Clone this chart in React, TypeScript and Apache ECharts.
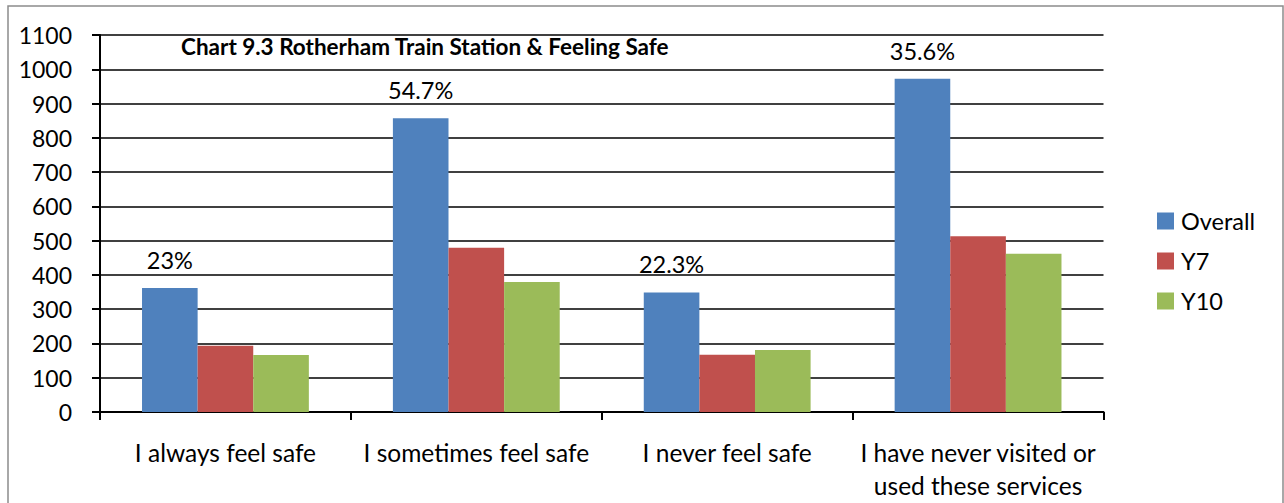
import React, { useEffect, useRef } from "react";
import * as echarts from "echarts";

const categories = [
  "I always feel safe",
  "I sometimes feel safe",
  "I never feel safe",
  "I have never visited or\nused these services",
];
const overall = [362, 857, 349, 972];
const y7 = [193, 479, 167, 513];
const y10 = [166, 379, 181, 462];
const overallLabels = ["23%", "54.7%", "22.3%", "35.6%"];
const yTicks = { min: 0, max: 1100, interval: 100 };
const titleText = "Chart 9.3 Rotherham Train Station & Feeling Safe";

const FONT = "Lato, 'Open Sans', sans-serif";

export default function App() {
  const ref = useRef<HTMLDivElement>(null);
  useEffect(() => {
    if (!ref.current) return;
    const chart = echarts.init(ref.current, undefined, { renderer: "svg" });
    chart.setOption({
      animation: false,
      backgroundColor: "#ffffff",
      textStyle: { fontFamily: FONT },
      title: {
        text: titleText,
        left: 181,
        top: 33,
        padding: 0,
        textStyle: { fontFamily: FONT, fontWeight: "bold", fontSize: 22.5, color: "#000", lineHeight: 26 },
      },
      graphic: [
        {
          type: "rect",
          shape: { x: 8, y: 6, width: 1275, height: 520 },
          style: { fill: "none", stroke: "#8c8c8c", lineWidth: 1.5 },
          silent: true,
        },
      ],
      legend: {
        orient: "vertical",
        left: 1152,
        top: 204,
        itemWidth: 17,
        itemHeight: 17,
        itemGap: 16,
        icon: "rect",
        textStyle: { fontFamily: FONT, fontSize: 23.5, color: "#000", lineHeight: 24, padding: [0, 0, 0, 2] },
        data: ["Overall", "Y7", "Y10"],
      },
      grid: { left: 100, right: 180.5, top: 35, bottom: 91, containLabel: false },
      xAxis: {
        type: "category",
        data: categories,
        axisLine: { lineStyle: { color: "#000", width: 2 } },
        axisTick: { show: true, length: 8, lineStyle: { color: "#000", width: 2 } },
        axisLabel: { interval: 0, margin: 24, fontSize: 24.5, lineHeight: 33, color: "#000", fontFamily: FONT },
      },
      yAxis: {
        type: "value",
        min: yTicks.min,
        max: yTicks.max,
        interval: yTicks.interval,
        axisLine: { show: true, lineStyle: { color: "#000", width: 2 } },
        axisTick: { show: true, length: 8, lineStyle: { color: "#000", width: 2 } },
        splitLine: { show: true, lineStyle: { color: "#000", width: 1.6 } },
        axisLabel: {
          margin: 28,
          fontSize: 23,
          color: "#000",
          fontFamily: FONT,
          padding: [8, 0, 0, 0],
          formatter: (v: number) => String(v),
        },
      },
      series: [
        {
          name: "Overall",
          type: "bar",
          data: overall,
          itemStyle: { color: "#4F81BD" },
          barGap: "0%",
          barCategoryGap: "33.5%",
          label: {
            show: true,
            position: "top",
            distance: 16,
            fontSize: 23.5,
            color: "#000",
            fontFamily: FONT,
            formatter: (p: any) => overallLabels[p.dataIndex],
          },
        },
        { name: "Y7", type: "bar", data: y7, itemStyle: { color: "#C0504D" }, barGap: "0%", barCategoryGap: "33.5%" },
        { name: "Y10", type: "bar", data: y10, itemStyle: { color: "#9BBB59" }, barGap: "0%", barCategoryGap: "33.5%" },
      ],
    });
    return () => chart.dispose();
  }, []);
  return (
    <div
      ref={ref}
      style={{ position: "fixed", left: 0, top: 0, width: 1284, height: 503, background: "#fff" }}
    />
  );
}
